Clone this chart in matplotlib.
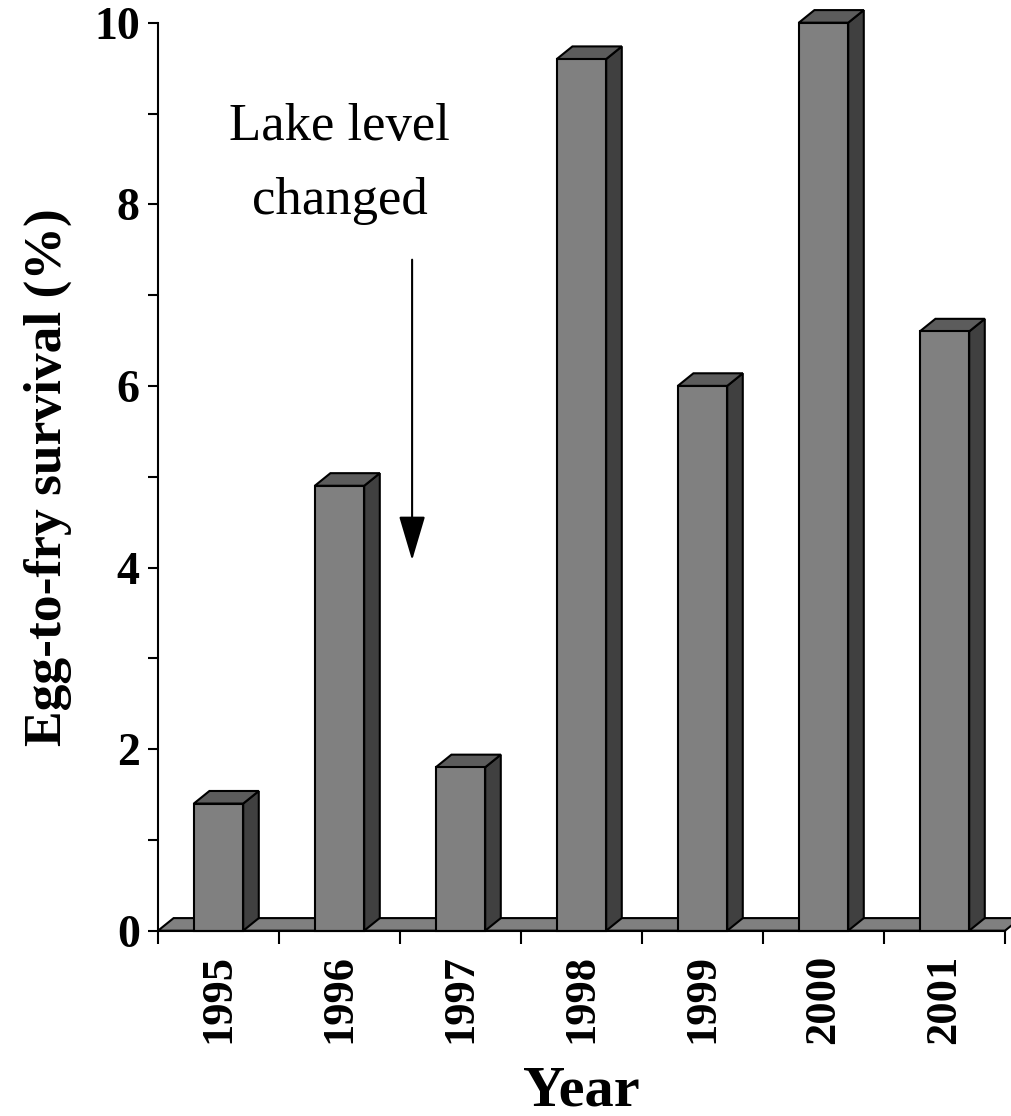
import matplotlib
matplotlib.use("Agg")
import matplotlib.pyplot as plt
from matplotlib.patches import Polygon
from matplotlib.ticker import MultipleLocator, FixedLocator, NullFormatter

years = ["1995", "1996", "1997", "1998", "1999", "2000", "2001"]
survival = [1.4, 4.9, 1.8, 9.6, 6.0, 10.0, 6.6]

plt.rcParams['font.family'] = ['Liberation Serif', 'DejaVu Serif']

W, H = 1012, 1116
fig = plt.figure(figsize=(W / 100, H / 100), dpi=100)
x0, x1 = 158, 1005
y0, y1 = 930.7, 22.7
ax = fig.add_axes([x0 / W, (H - y0) / H, (x1 - x0) / W, (y0 - y1) / H])
ax.set_xlim(-0.5, len(years) - 0.5)
ax.set_ylim(0, 10)

front_c = "#808080"
side_c = "#404040"
top_c = "#5c5c5c"
floor_c = "#808080"
lw = 1.5
bw = 0.408
dx = 15.6 / 121.0
dy = 12.6 / 90.8

# floor
xl, xr = -0.5, len(years) - 0.5
ax.add_patch(Polygon([(xl, 0), (xr, 0), (xr + dx, dy), (xl + dx, dy)],
                     closed=True, facecolor=floor_c, edgecolor="black",
                     lw=lw, clip_on=False, zorder=2))

for i, v in enumerate(survival):
    l, r = i - bw / 2, i + bw / 2
    ax.add_patch(Polygon([(r, 0), (r + dx, dy), (r + dx, v + dy), (r, v)],
                         closed=True, facecolor=side_c, edgecolor="black",
                         lw=lw, clip_on=False, zorder=3, joinstyle="miter"))
    ax.add_patch(Polygon([(l, v), (r, v), (r + dx, v + dy), (l + dx, v + dy)],
                         closed=True, facecolor=top_c, edgecolor="black",
                         lw=lw, clip_on=False, zorder=3, joinstyle="miter"))
    ax.bar(i, v, width=bw, color=front_c, edgecolor="black", linewidth=lw,
           zorder=4, clip_on=False)

for s in ["top", "right"]:
    ax.spines[s].set_visible(False)
ax.spines["left"].set_linewidth(lw)
ax.spines["bottom"].set_linewidth(lw)
ax.spines["bottom"].set_zorder(5)

ax.yaxis.set_major_locator(MultipleLocator(2))
ax.yaxis.set_minor_locator(MultipleLocator(1))
ax.yaxis.set_minor_formatter(NullFormatter())
ax.tick_params(axis="y", which="both", direction="out", length=7.2, width=lw,
               labelsize=33, pad=6)
for t in ax.get_yticklabels():
    t.set_fontweight("bold")

ax.set_xticks(range(len(years)))
ax.set_xticklabels(years, rotation=90, fontsize=32, fontweight="bold")
ax.tick_params(axis="x", which="major", length=0, pad=17)
ax.xaxis.set_minor_locator(FixedLocator([k - 0.5 for k in range(len(years) + 1)]))
ax.tick_params(axis="x", which="minor", direction="out", length=9.4, width=lw)

ax.set_ylabel("Egg-to-fry survival (%)", fontsize=38.5, fontweight="bold")
ax.yaxis.set_label_coords((72 - x0) / (x1 - x0), 0.5)
ax.set_xlabel("Year", fontsize=42, fontweight="bold")
ax.xaxis.set_label_coords(0.5, -(1066 - y0) / (y0 - y1))

ax.text(1.0, 8.85, "Lake level", ha="center", va="center", fontsize=38)
ax.text(1.0, 8.04, "changed", ha="center", va="center", fontsize=38)
ax.annotate("", xy=(1.6, 4.08), xytext=(1.6, 7.39),
            arrowprops=dict(arrowstyle="-|>,head_length=2.8,head_width=0.83",
                            color="black", lw=1.5, shrinkA=0, shrinkB=0))

fig.savefig("out.png", dpi=100)
